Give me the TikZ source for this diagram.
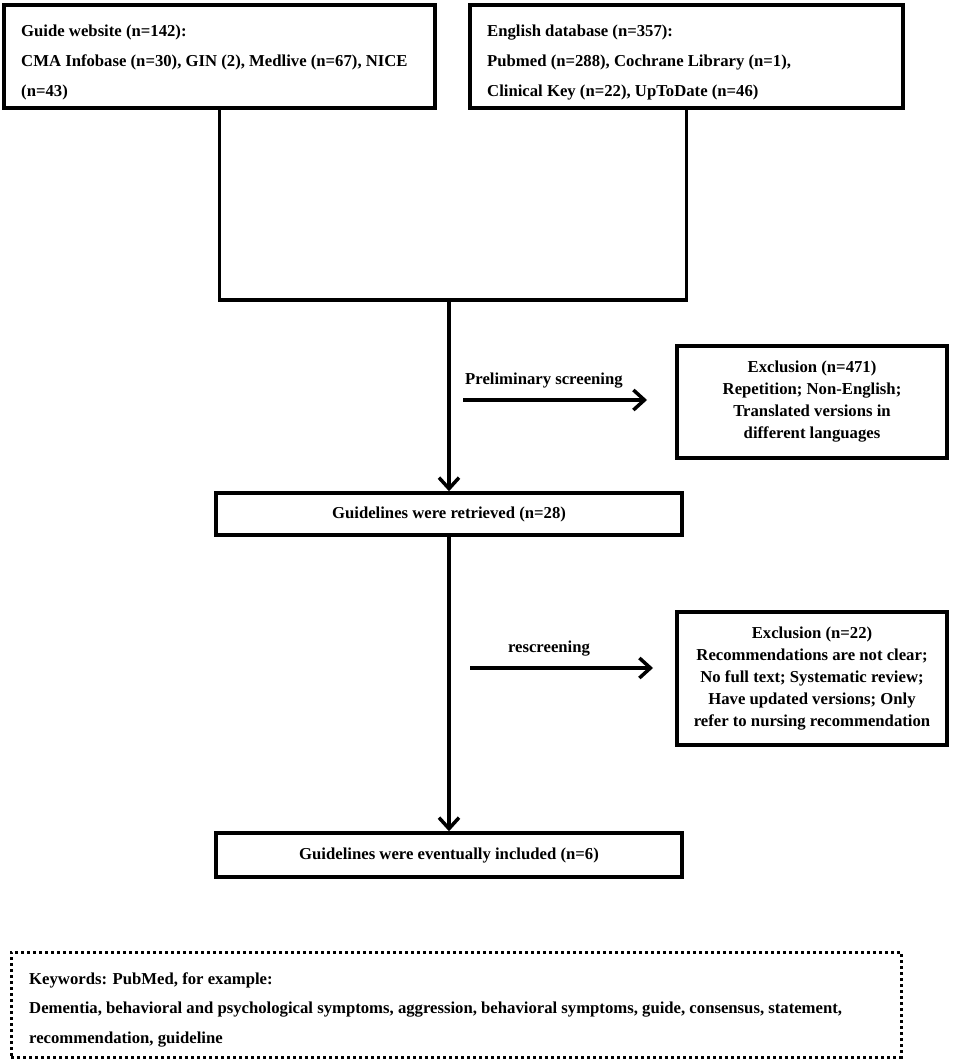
\documentclass[tikz,border=0pt]{standalone}
\usepackage{fontspec}
\setmainfont{Liberation Serif}
\usetikzlibrary{arrows.meta}
\begin{document}
\begin{tikzpicture}[x=1pt,y=-1pt,
  box/.style={draw, line width=3.5pt, rectangle, inner sep=0pt},
  txt/.style={font=\bfseries\fontsize{16.7}{30}\selectfont, inner sep=0pt, align=left},
  ctxt/.style={box, font=\bfseries\fontsize{16.7}{22}\selectfont, align=center},
  conn/.style={line width=3.5pt},
  arr/.style={line width=3.5pt, -{Straight Barb[length=11pt,width=20pt]}}
]
\useasboundingbox (0,0) rectangle (957,1064);

% top boxes
\node[box, minimum width=431pt, minimum height=103pt] (b1) at (219.5,56.5) {};
\node[txt, anchor=north west] (b1t) at (21,24.5)
  {Guide website (n=142):\\CMA Infobase (n=30), GIN (2), Medlive (n=67), NICE\\(n=43)};
\node[box, minimum width=433pt, minimum height=103pt] (b2) at (686.5,56.5) {};
\node[txt, anchor=north west] (b2t) at (487,24.5)
  {English database (n=357):\\Pubmed (n=288), Cochrane Library (n=1),\\Clinical Key (n=22), UpToDate (n=46)};

% merge
\coordinate (m) at (449,300);
\draw[conn] (b1.south) -- (b1.south |- m) -- (b2.south |- m) -- (b2.south);

% retrieved
\node[box, font=\bfseries\fontsize{16.7}{22}\selectfont, minimum width=466pt, minimum height=42pt] (r) at (449,514)
  {Guidelines were retrieved (n=28)};
\draw[arr] (m) -- (r.north);

% exclusion 1
\node[ctxt, minimum width=270pt, minimum height=112pt] (e1) at (812,402)
  {Exclusion (n=471)\\Repetition; Non-English;\\Translated versions in\\different languages};
\coordinate (a1s) at (463,400);
\coordinate (a1e) at (647,400);
\draw[arr] (a1s) -- (a1e);
\node[txt, anchor=base west] (a1t) at (465,384) {Preliminary screening};

% final
\node[box, font=\bfseries\fontsize{16.7}{22}\selectfont, minimum width=466pt, minimum height=44pt] (f) at (449,855)
  {Guidelines were eventually included (n=6)};
\draw[arr] (r.south) -- (f.north);

% exclusion 2
\node[ctxt, minimum width=270pt, minimum height=133pt] (e2) at (812,678.5)
  {Exclusion (n=22)\\Recommendations are not clear;\\No full text; Systematic review;\\Have updated versions; Only\\refer to nursing recommendation};
\coordinate (a2s) at (470,668);
\coordinate (a2e) at (653,668);
\draw[arr] (a2s) -- (a2e);
\node[txt, anchor=base] (a2t) at (549,652) {rescreening};

% keywords
\node[draw, line width=3pt, dash pattern=on 3pt off 3pt, rectangle, inner sep=0pt,
      minimum width=890pt, minimum height=105pt] (k) at (456,1004.5) {};
\node[txt, anchor=north west, font=\bfseries\fontsize{16.7}{29.5}\selectfont] (kt) at (29,972.5)
  {Keywords: PubMed, for example:\\Dementia, behavioral and psychological symptoms, aggression, behavioral symptoms, guide, consensus, statement,\\recommendation, guideline};
\end{tikzpicture}
\end{document}
